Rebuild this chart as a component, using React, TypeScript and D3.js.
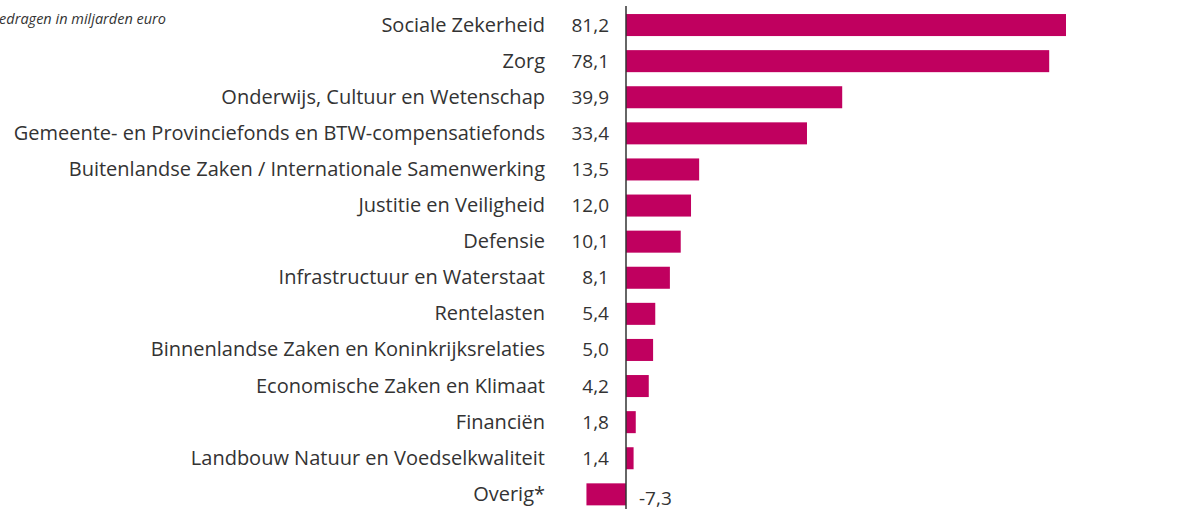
import React from "react";
import * as d3 from "d3";

const categories = [
  "Sociale Zekerheid",
  "Zorg",
  "Onderwijs, Cultuur en Wetenschap",
  "Gemeente- en Provinciefonds en BTW-compensatiefonds",
  "Buitenlandse Zaken / Internationale Samenwerking",
  "Justitie en Veiligheid",
  "Defensie",
  "Infrastructuur en Waterstaat",
  "Rentelasten",
  "Binnenlandse Zaken en Koninkrijksrelaties",
  "Economische Zaken en Klimaat",
  "Financiën",
  "Landbouw Natuur en Voedselkwaliteit",
  "Overig*",
];
const values = [81.2, 78.1, 39.9, 33.4, 13.5, 12.0, 10.1, 8.1, 5.4, 5.0, 4.2, 1.8, 1.4, -7.3];
const subtitle = "Bedragen in miljarden euro";

const W = 1180;
const H = 509;
const FONT = "'Open Sans', sans-serif";
const TEXT = "#333333";
const BAR = "#c0005f";

export default function App() {
  const x = d3.scaleLinear().domain([0, 81.2]).range([626, 1066]);
  const y = d3
    .scaleBand<string>()
    .domain(categories)
    .range([7, 512.4])
    .paddingInner(0.39)
    .paddingOuter(0.195);
  const fmt = (v: number) => d3.format(".1f")(v).replace(".", ",").replace("\u2212", "-");
  const bw = y.bandwidth();
  return (
    <svg
      width={W}
      height={H}
      style={{ position: "absolute", left: 0, top: 0, background: "#fff" }}
      fontFamily={FONT}
    >
      <text x={166} y={24} textAnchor="end" fontStyle="italic" fontSize={14.5} fill={TEXT}>
        {subtitle}
      </text>
      {categories.map((c, i) => {
        const v = values[i];
        const y0 = y(c)!;
        const cy = y0 + bw / 2;
        return (
          <g key={c}>
            <rect
              x={Math.min(x(0), x(v))}
              y={y0}
              width={Math.abs(x(v) - x(0))}
              height={bw}
              fill={BAR}
            />
            <text x={545} y={cy + 6.5} textAnchor="end" fontSize={20} fill={TEXT}>
              {c}
            </text>
            {v >= 0 ? (
              <text x={609} y={cy + 6.5} textAnchor="end" fontSize={19} fill={TEXT}>
                {fmt(v)}
              </text>
            ) : (
              <text x={639} y={cy + 10.5} textAnchor="start" fontSize={19} fill={TEXT}>
                {fmt(v)}
              </text>
            )}
          </g>
        );
      })}
      <line x1={x(0)} x2={x(0)} y1={6} y2={H} stroke={TEXT} strokeWidth={1.5} />
    </svg>
  );
}
